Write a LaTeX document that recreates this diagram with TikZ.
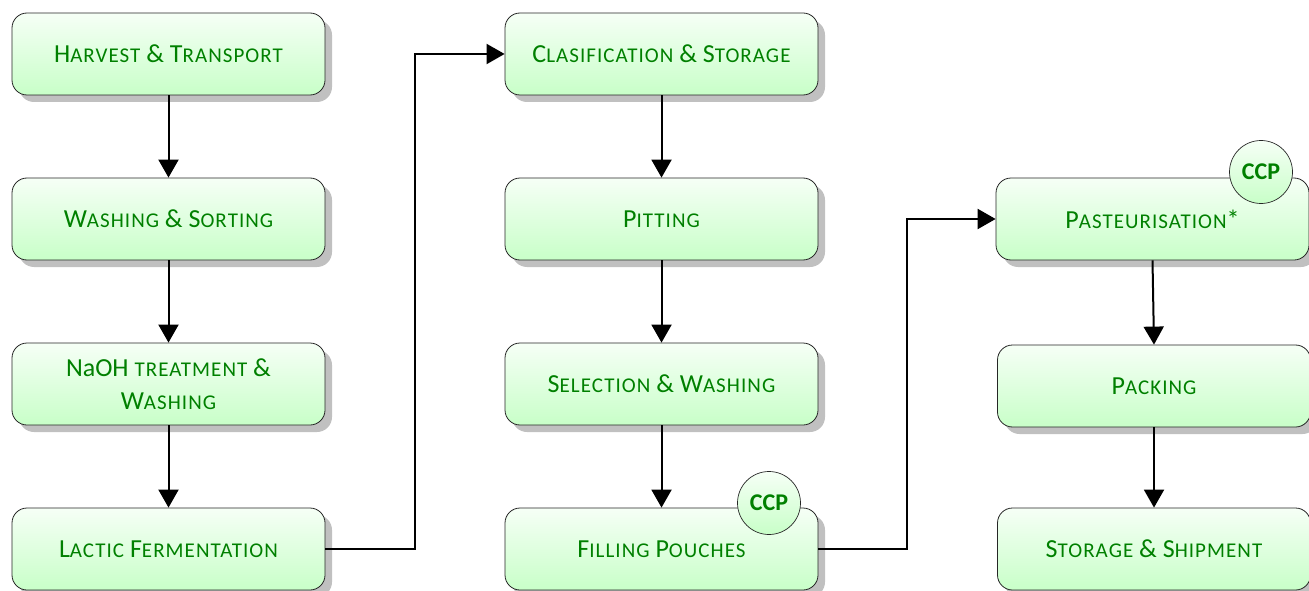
\documentclass[tikz,border=0pt]{standalone}
\usepackage{fontspec}
\setmainfont{Carlito}
\usetikzlibrary{arrows.meta,shadows}

\definecolor{boxtop}{RGB}{246,255,246}
\definecolor{boxbot}{RGB}{200,255,200}
\definecolor{labelgreen}{RGB}{0,128,0}
\definecolor{shadowgray}{RGB}{192,192,192}

% small capitals built from reduced upper-case letters
\newcommand\smc[1]{{\fontsize{21}{33}\selectfont\addfontfeature{LetterSpace=5}#1}}

\tikzset{
  stepbox/.style={
    rounded corners=15pt, draw=black!85, line width=0.8pt,
    top color=boxtop, bottom color=boxbot,
    minimum width=313pt, minimum height=82pt,
    text=labelgreen, align=center,
    font=\fontsize{26}{33}\selectfont,
    drop shadow={shadow xshift=7pt, shadow yshift=-7pt,
                 fill=shadowgray, opacity=1}
  },
  ccpmark/.style={
    circle, draw=black!85, line width=0.7pt,
    top color=boxtop, bottom color=boxbot,
    minimum size=63pt, inner sep=0pt,
    text=labelgreen, font=\fontsize{24}{24}\selectfont\bfseries
  },
  flow/.style={
    draw=black, line width=2pt,
    -{Triangle[length=18pt,width=20pt]}
  }
}

\begin{document}
\begin{tikzpicture}[x=1pt,y=-1pt]
\useasboundingbox (0,0) rectangle (1309,591);

% first column
\node[stepbox] (harv) at (168.5,54)  {H\smc{ARVEST} \& T\smc{RANSPORT}};
\node[stepbox] (wash) at (168.5,219) {W\smc{ASHING} \& S\smc{ORTING}};
\node[stepbox] (naoh) at (168.5,384) {NaOH \smc{TREATMENT} \&\\W\smc{ASHING}};
\node[stepbox] (lact) at (168.5,549) {L\smc{ACTIC} F\smc{ERMENTATION}};

% second column
\node[stepbox] (clas) at (661.5,54)  {C\smc{LASIFICATION} \& S\smc{TORAGE}};
\node[stepbox] (pitt) at (661.5,219) {P\smc{ITTING}};
\node[stepbox] (sele) at (661.5,384) {S\smc{ELECTION} \& W\smc{ASHING}};
\node[stepbox] (fill) at (661.5,549) {F\smc{ILLING} P\smc{OUCHES}};

% third column
\node[stepbox] (past) at (1152.5,219) {P\smc{ASTEURISATION}*};
\node[stepbox] (pack) at (1154,386)   {P\smc{ACKING}};
\node[stepbox] (stor) at (1154,549)   {S\smc{TORAGE} \& S\smc{HIPMENT}};

% critical control points
\node[ccpmark] (ccpa) at (769,503)  {CCP};
\node[ccpmark] (ccpb) at (1261,172) {CCP};

% process flow
\draw[flow] (harv) -- (wash);
\draw[flow] (wash) -- (naoh);
\draw[flow] (naoh) -- (lact);
\draw[flow] (lact.east) -- ++(90,0) |- (clas.west);
\draw[flow] (clas) -- (pitt);
\draw[flow] (pitt) -- (sele);
\draw[flow] (sele) -- (fill);
\draw[flow] (fill.east) -- ++(89,0) |- (past.west);
\draw[flow] (past.south) -- (pack.north);
\draw[flow] (pack) -- (stor);
\end{tikzpicture}
\end{document}
